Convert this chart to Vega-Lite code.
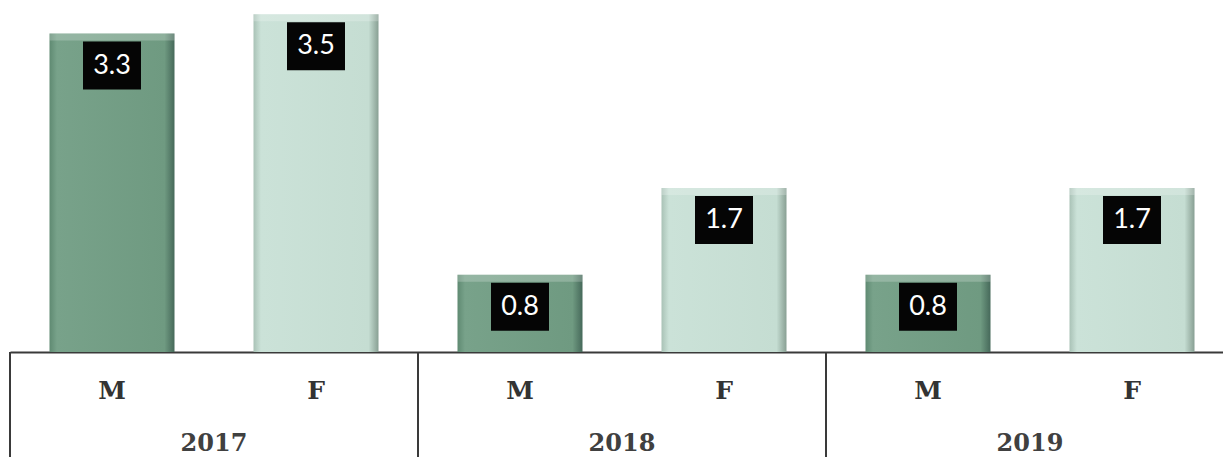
{
  "$schema": "https://vega.github.io/schema/vega-lite/v6.json",
  "width": 1213,
  "height": 352,
  "autosize": {"type": "none"},
  "padding": {"left": 10, "top": 0, "right": 0, "bottom": 105},
  "background": "white",
  "config": {"view": {"stroke": null}},
  "data": {
    "values": [
      {"year": "2017", "sex": "M", "key": "2017 M", "value": 3.3},
      {"year": "2017", "sex": "F", "key": "2017 F", "value": 3.5},
      {"year": "2018", "sex": "M", "key": "2018 M", "value": 0.8},
      {"year": "2018", "sex": "F", "key": "2018 F", "value": 1.7},
      {"year": "2019", "sex": "M", "key": "2019 M", "value": 0.8},
      {"year": "2019", "sex": "F", "key": "2019 F", "value": 1.7}
    ]
  },
  "layer": [
    {
      "transform": [{"filter": "datum.sex === 'M'"}],
      "mark": {"type": "bar", "width": 125, "color": {"gradient": "linear", "x1": 0, "y1": 0, "x2": 1, "y2": 0, "stops": [{"offset": 0, "color": "#5f8a72"}, {"offset": 0.06, "color": "#78a28a"}, {"offset": 0.92, "color": "#6f9a81"}, {"offset": 1, "color": "#46695a"}]}},
      "encoding": {
        "x": {"field": "key", "type": "nominal", "title": null, "scale": {"domain": ["2017 M", "2017 F", "2018 M", "2018 F", "2019 M", "2019 F"], "range": [0, 1224], "paddingInner": 0.387, "paddingOuter": 0.1935}, "axis": {"labelExpr": "split(datum.label, ' ')[1]", "ticks": false, "tickSize": 0, "domainColor": "#3a3a3a", "domainWidth": 2, "labelFont": "DejaVu Serif", "labelFontWeight": "bold", "labelFontSize": 25, "labelColor": "#333333", "labelBaseline": "middle", "labelPadding": 38, "labelAngle": 0}},
        "y": {"field": "value", "type": "quantitative", "axis": null, "scale": {"domain": [0, 3.648], "nice": false, "zero": true}}
      }
    },
    {
      "transform": [{"filter": "datum.sex === 'F'"}],
      "mark": {"type": "bar", "width": 125, "color": {"gradient": "linear", "x1": 0, "y1": 0, "x2": 1, "y2": 0, "stops": [{"offset": 0, "color": "#a9c2b6"}, {"offset": 0.06, "color": "#cbe2d8"}, {"offset": 0.92, "color": "#c5ddd2"}, {"offset": 1, "color": "#889f93"}]}},
      "encoding": {
        "x": {"field": "key", "type": "nominal", "title": null},
        "y": {"field": "value", "type": "quantitative"}
      }
    },
    {
      "mark": {"type": "bar", "width": 125, "color": "white", "opacity": 0.22, "y2Offset": 7},
      "encoding": {
        "x": {"field": "key", "type": "nominal", "title": null},
        "y": {"field": "value", "type": "quantitative"},
        "y2": {"field": "value"}
      }
    },
    {
      "mark": {"type": "bar", "width": 58, "color": "#050505", "yOffset": 8, "y2Offset": 56},
      "encoding": {
        "x": {"field": "key", "type": "nominal", "title": null},
        "y": {"field": "value", "type": "quantitative"},
        "y2": {"field": "value"}
      }
    },
    {
      "mark": {"type": "text", "color": "white", "font": "Lato", "fontSize": 27, "baseline": "middle", "dy": 32},
      "encoding": {
        "x": {"field": "key", "type": "nominal", "title": null},
        "y": {"field": "value", "type": "quantitative"},
        "text": {"field": "value", "type": "quantitative", "format": ".1f"}
      }
    },
    {
      "transform": [{"filter": "datum.sex === 'M'"}],
      "mark": {"type": "rule", "clip": false, "color": "#3a3a3a", "strokeWidth": 2},
      "encoding": {
        "x": {"field": "key", "type": "nominal", "title": null, "bandPosition": -0.3157},
        "y": {"datum": 0},
        "y2": {"datum": -1.1}
      }
    },
    {
      "transform": [{"filter": "datum.sex === 'F'"}],
      "mark": {"type": "text", "clip": false, "font": "DejaVu Serif", "fontSize": 24, "fontWeight": "bold", "color": "#404040", "baseline": "middle"},
      "encoding": {
        "x": {"field": "key", "type": "nominal", "title": null, "bandPosition": -0.3157},
        "y": {"datum": -0.953},
        "text": {"field": "year"}
      }
    }
  ]
}
